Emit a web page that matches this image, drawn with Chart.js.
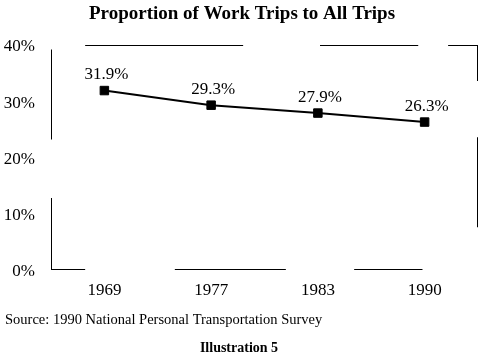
<!DOCTYPE html>
<html>
<head>
<meta charset="utf-8">
<script src="https://cdn.jsdelivr.net/npm/chart.js@4/dist/chart.umd.min.js"></script>
<style>
html, body { margin: 0; padding: 0; background: #fff; }
</style>
</head>
<body>
<canvas id="chart" width="485" height="361"></canvas>
<script>
// data
const years = ['1969', '1977', '1983', '1990'];
const workShare = [31.9, 29.3, 27.9, 26.3];
const yMin = 0, yMax = 40, yStep = 10;

const titleText = 'Proportion of Work Trips to All Trips';
const sourceText = 'Source: 1990 National Personal Transportation Survey';
const captionText = 'Illustration 5';

const serif = '"Liberation Serif", "Times New Roman", serif';

// the frame in the scan is broken up, pieces given as fractions of the plot box
const framePieces = {
  top: [[0.08, 0.45], [0.63, 0.86], [0.93, 1]],
  bottom: [[0, 0.08], [0.29, 0.55], [0.71, 0.87]],
  left: [[0.02, 0.42], [0.68, 1]],
  right: [[0, 0.16], [0.41, 0.81]]
};

const brokenFrame = {
  id: 'brokenFrame',
  afterDraw(chart) {
    const a = chart.chartArea;
    const c = chart.ctx;
    const w = a.right - a.left, h = a.bottom - a.top;
    c.save();
    c.strokeStyle = '#000';
    c.lineWidth = 1;
    c.beginPath();
    framePieces.top.forEach(p => { c.moveTo(a.left + p[0]*w, a.top + 0.5); c.lineTo(a.left + p[1]*w, a.top + 0.5); });
    framePieces.bottom.forEach(p => { c.moveTo(a.left + p[0]*w, a.bottom - 0.5); c.lineTo(a.left + p[1]*w, a.bottom - 0.5); });
    framePieces.left.forEach(p => { c.moveTo(a.left + 0.5, a.top + p[0]*h); c.lineTo(a.left + 0.5, a.top + p[1]*h); });
    framePieces.right.forEach(p => { c.moveTo(a.right - 0.5, a.top + p[0]*h); c.lineTo(a.right - 0.5, a.top + p[1]*h); });
    c.stroke();
    c.restore();
  }
};

const pointLabels = {
  id: 'pointLabels',
  afterDatasetsDraw(chart) {
    const c = chart.ctx;
    const meta = chart.getDatasetMeta(0);
    c.save();
    c.fillStyle = '#000';
    c.font = '17px ' + serif;
    c.textAlign = 'center';
    c.textBaseline = 'middle';
    meta.data.forEach((pt, i) => {
      c.fillText(workShare[i].toFixed(1) + '%', pt.x + 2, pt.y - 16);
    });
    c.restore();
  }
};

const pageTexts = {
  id: 'pageTexts',
  afterDraw(chart) {
    const c = chart.ctx;
    c.save();
    c.fillStyle = '#000';
    c.textBaseline = 'middle';
    c.textAlign = 'center';
    c.font = 'bold 19px ' + serif;
    c.fillText(titleText, 242, 14);
    c.textAlign = 'left';
    c.font = '14.5px ' + serif;
    c.fillText(sourceText, 5, 320);
    c.textAlign = 'center';
    c.font = 'bold 14px ' + serif;
    c.fillText(captionText, 239, 348);
    c.restore();
  }
};

new Chart(document.getElementById('chart').getContext('2d'), {
  type: 'line',
  data: {
    labels: years,
    datasets: [{
      data: workShare,
      borderColor: '#000',
      borderWidth: 2,
      backgroundColor: '#000',
      pointStyle: 'rect',
      pointRadius: 6,
      pointBorderWidth: 1,
      pointBorderColor: '#000',
      pointBackgroundColor: '#000',
      tension: 0
    }]
  },
  options: {
    responsive: false,
    animation: false,
    layout: { padding: { top: 45, right: 6, left: 0, bottom: 46 } },
    plugins: {
      legend: { display: false },
      title: { display: false },
      tooltip: { enabled: false }
    },
    scales: {
      x: {
        offset: true,
        grid: { display: false },
        border: { display: false },
        ticks: { color: '#000', font: { family: serif, size: 17 }, padding: 2 },
        afterFit: s => { s.height = 45; }
      },
      y: {
        min: yMin,
        max: yMax,
        grid: { display: false },
        border: { display: false },
        ticks: {
          stepSize: yStep,
          color: '#000',
          font: { family: serif, size: 17 },
          padding: 8,
          labelOffset: 2,
          callback: v => v + '%'
        },
        afterFit: s => { s.width = 51; }
      }
    }
  },
  plugins: [brokenFrame, pointLabels, pageTexts]
});
</script>
</body>
</html>
